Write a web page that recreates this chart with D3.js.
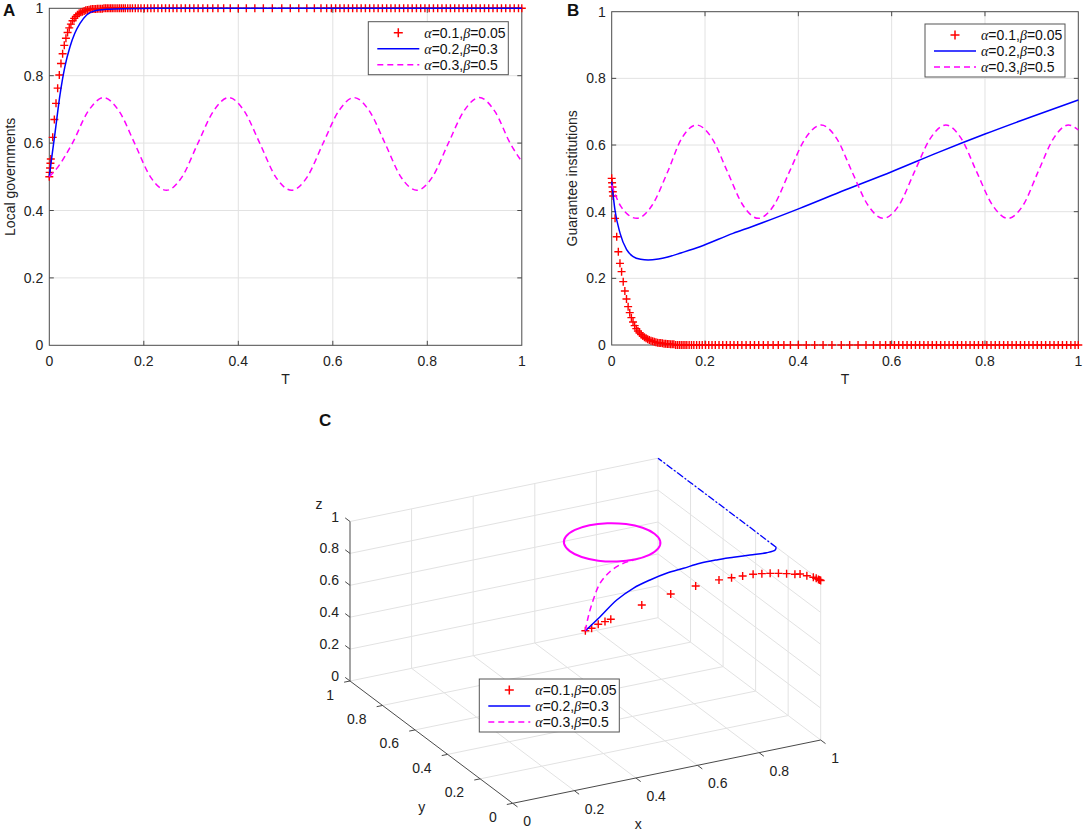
<!DOCTYPE html>
<html>
<head>
<meta charset="utf-8">
<script src="https://cdn.jsdelivr.net/npm/d3@7"></script>
<style>
body { margin: 0; background: #fff; }
svg { font-family: "Liberation Sans", Arial, sans-serif; }
</style>
</head>
<body>
<svg id="fig" width="1084" height="832"></svg>
<script>
// ---- data ----
const alphaVals = ["0.1", "0.2", "0.3"];
const betaVals = ["0.05", "0.3", "0.5"];
const tickVals = [0, 0.2, 0.4, 0.6, 0.8, 1];
const tickLabels = ["0", "0.2", "0.4", "0.6", "0.8", "1"];

// red (+) series, alpha=0.1 beta=0.05 : transient part
const redTransT = [0, 0.0008, 0.0016, 0.0024, 0.0032, 0.0072, 0.0107, 0.0142, 0.0177, 0.0212, 0.0247, 0.0282, 0.0317, 0.0352, 0.0387, 0.0422, 0.0457, 0.0492, 0.0527, 0.0562, 0.0597, 0.0632, 0.0667, 0.0702, 0.0737, 0.0772, 0.0807, 0.0842, 0.0877, 0.0912, 0.0947, 0.0982, 0.1017, 0.1052, 0.1087, 0.1122, 0.1157, 0.1192, 0.1227, 0.1262, 0.1297, 0.1332];
const redTransA = [0.500, 0.513, 0.526, 0.540, 0.553, 0.617, 0.670, 0.718, 0.763, 0.802, 0.836, 0.865, 0.890, 0.911, 0.928, 0.942, 0.953, 0.963, 0.970, 0.976, 0.981, 0.985, 0.988, 0.990, 0.992, 0.994, 0.995, 0.996, 0.997, 0.998, 0.998, 0.998, 0.999, 0.999, 0.999, 0.999, 1, 1, 1, 1, 1, 1];
const redTransB = [0.500, 0.487, 0.474, 0.460, 0.447, 0.380, 0.325, 0.280, 0.245, 0.220, 0.190, 0.162, 0.138, 0.115, 0.097, 0.082, 0.069, 0.058, 0.049, 0.042, 0.036, 0.031, 0.027, 0.023, 0.020, 0.017, 0.015, 0.013, 0.011, 0.010, 0.008, 0.007, 0.006, 0.006, 0.005, 0.004, 0.004, 0.003, 0.003, 0.002, 0.002, 0.002];
// red series once settled at its equilibrium
const redSettledT = [0.137, 0.141, 0.145, 0.149, 0.153, 0.157, 0.161, 0.166, 0.171, 0.176, 0.182, 0.188, 0.194, 0.201, 0.208, 0.215, 0.222, 0.230, 0.238, 0.246, 0.254, 0.262, 0.270, 0.279, 0.288, 0.297, 0.306, 0.315, 0.325, 0.335, 0.346, 0.357, 0.369, 0.383, 0.400, 0.417, 0.435, 0.453, 0.472, 0.492, 0.510, 0.528, 0.545, 0.561, 0.575, 0.587, 0.597, 0.606, 0.615, 0.624, 0.633, 0.642, 0.651, 0.660, 0.669, 0.678, 0.687, 0.696, 0.705, 0.714, 0.723, 0.732, 0.741, 0.750, 0.759, 0.768, 0.777, 0.786, 0.795, 0.804, 0.813, 0.822, 0.831, 0.840, 0.849, 0.858, 0.867, 0.876, 0.885, 0.894, 0.903, 0.912, 0.921, 0.930, 0.939, 0.948, 0.957, 0.966, 0.975, 0.984, 0.993, 1.0];
const redSettledA = 1;
const redSettledB = 0;

// blue series, alpha=0.2 beta=0.3
const blueAT = [0, 0.004, 0.012, 0.0226, 0.033, 0.0438, 0.054, 0.065, 0.079, 0.0967, 0.121, 0.157, 0.25, 0.5, 0.75, 1.0];
const blueAV = [0.500, 0.545, 0.629, 0.743, 0.827, 0.886, 0.926, 0.955, 0.980, 0.993, 0.997, 0.999, 1, 1, 1, 1];
const blueBT = [0, 0.007, 0.018, 0.032, 0.046, 0.062, 0.078, 0.100, 0.118, 0.150, 0.189, 0.260, 0.300, 0.403, 0.500, 0.600, 0.700, 0.800, 0.900, 1.0];
const blueBV = [0.490, 0.405, 0.335, 0.286, 0.265, 0.257, 0.255, 0.258, 0.263, 0.277, 0.295, 0.335, 0.355, 0.410, 0.465, 0.520, 0.578, 0.633, 0.685, 0.735];

// magenta series, alpha=0.3 beta=0.5
const magAT = [0, 0.016, 0.049, 0.082, 0.115, 0.148, 0.181, 0.214, 0.248, 0.281, 0.314, 0.347, 0.380, 0.413, 0.446, 0.479, 0.513, 0.546, 0.579, 0.612, 0.645, 0.678, 0.711, 0.744, 0.778, 0.811, 0.844, 0.877, 0.910, 0.943, 0.976, 1.0];
const magAV = [0.500, 0.525, 0.600, 0.694, 0.735, 0.694, 0.598, 0.500, 0.460, 0.500, 0.598, 0.694, 0.735, 0.694, 0.598, 0.500, 0.460, 0.500, 0.598, 0.694, 0.735, 0.694, 0.598, 0.500, 0.460, 0.500, 0.598, 0.694, 0.735, 0.694, 0.598, 0.545];
const magBT = [0, 0.020, 0.054, 0.087, 0.120, 0.150, 0.182, 0.215, 0.248, 0.281, 0.314, 0.348, 0.381, 0.415, 0.449, 0.482, 0.515, 0.549, 0.582, 0.616, 0.649, 0.683, 0.716, 0.749, 0.782, 0.816, 0.849, 0.882, 0.914, 0.947, 0.979, 1.0];
const magBV = [0.480, 0.415, 0.380, 0.420, 0.520, 0.620, 0.660, 0.620, 0.520, 0.420, 0.380, 0.420, 0.520, 0.620, 0.660, 0.620, 0.520, 0.420, 0.380, 0.420, 0.520, 0.620, 0.660, 0.620, 0.520, 0.420, 0.380, 0.420, 0.520, 0.620, 0.660, 0.645];

// 3D trajectories (panel C)
const red3x = [0.500, 0.513, 0.526, 0.540, 0.553, 0.623, 0.680, 0.733, 0.786, 0.812, 0.838, 0.864, 0.884, 0.903, 0.922, 0.940, 0.958, 0.971, 0.982, 0.993, 0.996, 0.998, 0.999, 1.000];
const red3y = [0.500, 0.486, 0.470, 0.455, 0.444, 0.386, 0.316, 0.263, 0.220, 0.192, 0.173, 0.158, 0.142, 0.127, 0.112, 0.096, 0.079, 0.072, 0.051, 0.032, 0.020, 0.010, 0.004, 0.000];
const red3z = [0.500, 0.521, 0.553, 0.576, 0.594, 0.700, 0.800, 0.870, 0.920, 0.945, 0.960, 0.972, 0.980, 0.986, 0.990, 0.993, 0.995, 0.997, 0.998, 0.999, 1.000, 1.000, 1.000, 1.000];

const blue3x = [0.500, 0.531, 0.576, 0.620, 0.664, 0.707, 0.751, 0.794, 0.837, 0.878, 0.920, 0.962, 0.989, 0.999];
const blue3y = [0.500, 0.468, 0.451, 0.433, 0.413, 0.393, 0.372, 0.352, 0.331, 0.305, 0.283, 0.260, 0.259, 0.272];
const blue3z = [0.500, 0.600, 0.700, 0.770, 0.820, 0.860, 0.890, 0.920, 0.940, 0.960, 0.975, 0.990, 0.997, 1.000];
const blueTail3x = [0.999, 1, 1, 1, 1];
const blueTail3y = [0.272, 0.45, 0.63, 0.82, 1.0];
const blueTail3z = [1, 1, 1, 1, 1];

const magTrans3x = [0.500, 0.501, 0.516, 0.536, 0.557, 0.581, 0.603];
const magTrans3y = [0.500, 0.484, 0.482, 0.478, 0.457, 0.430, 0.399];
const magTrans3z = [0.500, 0.600, 0.700, 0.800, 0.880, 0.940, 0.980];
const magCycle3x = [0.735, 0.725, 0.695, 0.650, 0.598, 0.545, 0.500, 0.470, 0.460, 0.470, 0.500, 0.545, 0.598, 0.650, 0.695, 0.725];
const magCycle3y = [0.520, 0.574, 0.619, 0.649, 0.660, 0.649, 0.619, 0.574, 0.520, 0.466, 0.421, 0.391, 0.380, 0.391, 0.421, 0.466];
const magCycle3z = [1, 1, 1, 1, 1, 1, 1, 1, 1, 1, 1, 1, 1, 1, 1, 1];

// ---- drawing ----
const svg = d3.select("#fig");
const gridColor = "#e2e2e2";
const axisColor = "#4a4a4a";
const RED = "#ff0000", BLUE = "#0000ff", MAG = "#ff00ff";
const serif = "'Liberation Serif', 'Times New Roman', serif";

function plus(r) { return `M${-r},0H${r}M0,${-r}V${r}`; }
function zip(a, b) { return a.map((v, i) => [v, b[i]]); }

function legend(left, top) {
  const lg = svg.append("g").attr("transform", `translate(${left},${top})`);
  lg.append("rect").attr("width", 140).attr("height", 53)
    .attr("fill", "#fff").attr("stroke", "#555").attr("stroke-width", 1);
  const rows = [11, 27, 43];
  lg.append("path").attr("d", plus(4.5)).attr("transform", `translate(30,${rows[0]})`)
    .attr("stroke", RED).attr("stroke-width", 1.5);
  lg.append("line").attr("x1", 9).attr("x2", 51).attr("y1", rows[1]).attr("y2", rows[1])
    .attr("stroke", BLUE).attr("stroke-width", 1.5);
  lg.append("line").attr("x1", 9).attr("x2", 51).attr("y1", rows[2]).attr("y2", rows[2])
    .attr("stroke", MAG).attr("stroke-width", 1.5).attr("stroke-dasharray", "6,4");
  alphaVals.forEach((a, i) => {
    const t = lg.append("text").attr("x", 56).attr("y", rows[i] + 5).attr("font-size", 14).attr("fill", "#111");
    t.append("tspan").attr("font-family", serif).attr("font-style", "italic").text("α");
    t.append("tspan").text("=" + a + ",");
    t.append("tspan").attr("font-family", serif).attr("font-style", "italic").text("β");
    t.append("tspan").text("=" + betaVals[i]);
  });
}

function panel2d(o) {
  const x = d3.scaleLinear([0, 1], o.xr);
  const y = d3.scaleLinear([0, 1], o.yr);
  const g = svg.append("g");
  const inner = tickVals.slice(1, -1);

  g.selectAll(".gx").data(inner).join("line")
    .attr("x1", d => x(d)).attr("x2", d => x(d)).attr("y1", y(0)).attr("y2", y(1))
    .attr("stroke", gridColor);
  g.selectAll(".gy").data(inner).join("line")
    .attr("y1", d => y(d)).attr("y2", d => y(d)).attr("x1", x(0)).attr("x2", x(1))
    .attr("stroke", gridColor);

  g.append("rect").attr("x", x(0)).attr("y", y(1))
    .attr("width", x(1) - x(0)).attr("height", y(0) - y(1))
    .attr("fill", "none").attr("stroke", axisColor).attr("stroke-width", 1);

  // inward ticks on all four sides
  const tk = 4.5;
  inner.forEach(d => {
    [[x(d), y(0), x(d), y(0) - tk], [x(d), y(1), x(d), y(1) + tk],
     [x(0), y(d), x(0) + tk, y(d)], [x(1), y(d), x(1) - tk, y(d)]].forEach(s => {
      g.append("line").attr("x1", s[0]).attr("y1", s[1]).attr("x2", s[2]).attr("y2", s[3])
        .attr("stroke", axisColor);
    });
  });

  g.selectAll(".tlx").data(tickVals).join("text")
    .attr("x", d => x(d)).attr("y", y(0) + 21).attr("text-anchor", "middle")
    .attr("font-size", 14).attr("fill", "#222").text((d, i) => tickLabels[i]);
  g.selectAll(".tly").data(tickVals).join("text")
    .attr("x", x(0) - 6).attr("y", d => y(d) + 5).attr("text-anchor", "end")
    .attr("font-size", 14).attr("fill", "#222").text((d, i) => tickLabels[i]);

  g.append("text").attr("x", (x(0) + x(1)) / 2).attr("y", y(0) + 39).attr("text-anchor", "middle")
    .attr("font-size", 14).attr("fill", "#222").text("T");
  g.append("text").attr("transform", `translate(${o.ylabX},${(y(0) + y(1)) / 2}) rotate(-90)`)
    .attr("text-anchor", "middle").attr("font-size", 14).attr("fill", "#222").text(o.ylabel);
  g.append("text").attr("x", o.letter[1]).attr("y", o.letter[2])
    .attr("font-size", 17).attr("font-weight", "bold").attr("fill", "#111").text(o.letter[0]);

  // red markers
  const redPts = zip(redTransT, o.redTrans).concat(redSettledT.map(t => [t, o.redSettled]));
  g.selectAll(".rm").data(redPts).join("path")
    .attr("d", plus(4))
    .attr("transform", d => `translate(${x(d[0])},${y(d[1])})`)
    .attr("stroke", RED).attr("stroke-width", 1.4).attr("fill", "none");

  const line = d3.line().x(d => x(d[0])).y(d => y(d[1])).curve(d3.curveMonotoneX);
  g.append("path").attr("d", line(zip(o.blueT, o.blueV)))
    .attr("fill", "none").attr("stroke", BLUE).attr("stroke-width", 1.5);
  g.append("path").attr("d", line(zip(o.magT, o.magV)))
    .attr("fill", "none").attr("stroke", MAG).attr("stroke-width", 1.5).attr("stroke-dasharray", "6,4");

  legend(o.legend[0], o.legend[1]);
}

panel2d({
  xr: [49.3, 521.8], yr: [345.3, 8.3], ylabel: "Local governments", ylabX: 15,
  letter: ["A", 3, 16], legend: [368.3, 21.7],
  redTrans: redTransA, redSettled: redSettledA,
  blueT: blueAT, blueV: blueAV, magT: magAT, magV: magAV
});
panel2d({
  xr: [611.7, 1078.3], yr: [345, 11.7], ylabel: "Guarantee institutions", ylabX: 577,
  letter: ["B", 567, 16], legend: [925, 24],
  redTrans: redTransB, redSettled: redSettledB,
  blueT: blueBT, blueV: blueBV, magT: magBT, magV: magBV
});

// ---- panel C : 3D view ----
const origin3 = [512.7, 803.3];
const exX = d3.scaleLinear([0, 1], [0, 308]), exY = d3.scaleLinear([0, 1], [0, -63.3]);
const eyX = d3.scaleLinear([0, 1], [0, -162.7]), eyY = d3.scaleLinear([0, 1], [0, -122.3]);
const ezY = d3.scaleLinear([0, 1], [0, -159.5]);
function proj(x, y, z) {
  return [origin3[0] + exX(x) + eyX(y), origin3[1] + exY(x) + eyY(y) + ezY(z)];
}
const gc = svg.append("g");
function seg(a, b, color, w) {
  gc.append("line").attr("x1", a[0]).attr("y1", a[1]).attr("x2", b[0]).attr("y2", b[1])
    .attr("stroke", color).attr("stroke-width", w || 1);
}
const upper = tickVals.slice(1);
// grid: floor, back wall (y=1), right wall (x=1)
upper.forEach(v => {
  seg(proj(v, 0, 0), proj(v, 1, 0), gridColor);
  seg(proj(0, v, 0), proj(1, v, 0), gridColor);
  seg(proj(v, 1, 0), proj(v, 1, 1), gridColor);
  seg(proj(0, 1, v), proj(1, 1, v), gridColor);
  seg(proj(1, 0, v), proj(1, 1, v), gridColor);
});
tickVals.slice(0, -1).forEach(v => seg(proj(1, v, 0), proj(1, v, 1), gridColor));

// axes
seg(proj(0, 0, 0), proj(1, 0, 0), axisColor);
seg(proj(0, 0, 0), proj(0, 1, 0), axisColor);
seg(proj(0, 1, 0), proj(0, 1, 1), axisColor);

const tl = 6;
const uNegY = [0.8, 0.6], uNegX = [-0.98, 0.2], uPosY = [-0.8, -0.6];
tickVals.forEach((v, i) => {
  const px = proj(v, 0, 0);
  seg(px, [px[0] + uNegY[0] * tl, px[1] + uNegY[1] * tl], axisColor);
  gc.append("text").attr("x", px[0] + 10.5).attr("y", px[1] + 23)
    .attr("font-size", 14).attr("fill", "#222").text(tickLabels[i]);
  const py = proj(0, v, 0);
  seg(py, [py[0] + uNegX[0] * tl, py[1] + uNegX[1] * tl], axisColor);
  gc.append("text").attr("x", py[0] - 16).attr("y", py[1] + 18.5).attr("text-anchor", "end")
    .attr("font-size", 14).attr("fill", "#222").text(tickLabels[i]);
  const pz = proj(0, 1, v);
  seg(pz, [pz[0] + uPosY[0] * tl, pz[1] + uPosY[1] * tl], axisColor);
  gc.append("text").attr("x", 339).attr("y", pz[1]).attr("text-anchor", "end")
    .attr("font-size", 14).attr("fill", "#222").text(tickLabels[i]);
});
gc.append("text").attr("x", 638.3).attr("y", 829).attr("text-anchor", "middle").attr("font-size", 14).attr("fill", "#222").text("x");
gc.append("text").attr("x", 421.7).attr("y", 812).attr("text-anchor", "middle").attr("font-size", 14).attr("fill", "#222").text("y");
gc.append("text").attr("x", 319).attr("y", 509).attr("text-anchor", "middle").attr("font-size", 14).attr("fill", "#222").text("z");
gc.append("text").attr("x", 319).attr("y", 426).attr("font-size", 17).attr("font-weight", "bold").attr("fill", "#111").text("C");

function pts3(xs, ys, zs) { return xs.map((v, i) => proj(v, ys[i], zs[i])); }
const line3 = d3.line().curve(d3.curveCatmullRom);

gc.selectAll(".r3").data(pts3(red3x, red3y, red3z)).join("path")
  .attr("d", plus(4)).attr("transform", d => `translate(${d[0]},${d[1]})`)
  .attr("stroke", RED).attr("stroke-width", 1.4).attr("fill", "none");
gc.append("path").attr("d", line3(pts3(blue3x, blue3y, blue3z)))
  .attr("fill", "none").attr("stroke", BLUE).attr("stroke-width", 1.5);
gc.append("path").attr("d", line3(pts3(blueTail3x, blueTail3y, blueTail3z)))
  .attr("fill", "none").attr("stroke", BLUE).attr("stroke-width", 1.3).attr("stroke-dasharray", "7,2,2,2");
gc.append("path").attr("d", line3(pts3(magTrans3x, magTrans3y, magTrans3z)))
  .attr("fill", "none").attr("stroke", MAG).attr("stroke-width", 1.5).attr("stroke-dasharray", "6,4");
gc.append("path").attr("d", d3.line().curve(d3.curveCardinalClosed)(pts3(magCycle3x, magCycle3y, magCycle3z)))
  .attr("fill", "none").attr("stroke", MAG).attr("stroke-width", 2);

legend(479.3, 679);
</script>
</body>
</html>
